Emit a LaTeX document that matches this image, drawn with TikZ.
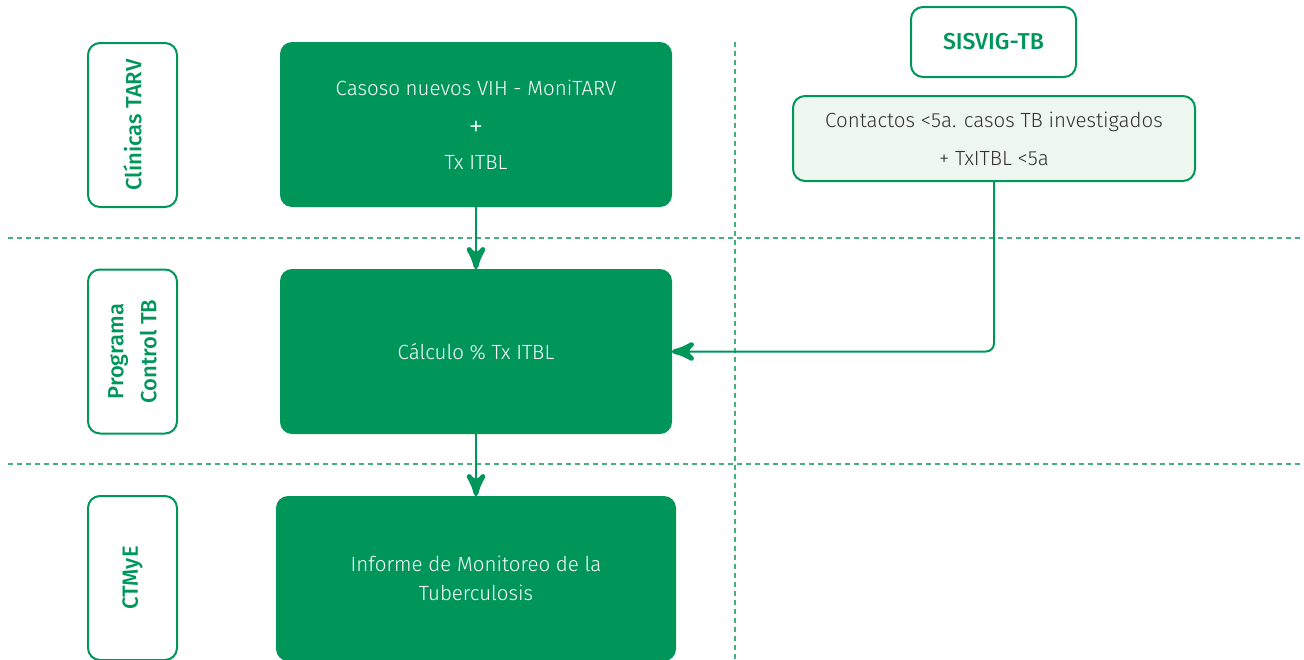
\documentclass[tikz,border=0pt]{standalone}
\usepackage{fontspec}
\setmainfont{Fira Sans Light}[BoldFont = {Fira Sans Medium}]
\usepackage{tikz}
\usetikzlibrary{arrows}
\usetikzlibrary{decorations.markings}
\usetikzlibrary{positioning}
\definecolor{mgreen}{RGB}{0, 150, 90}
\definecolor{lgreen}{RGB}{238, 246, 240}
\definecolor{dgreen}{RGB}{70, 175, 125}
\tikzset{step box/.style = {rectangle, rounded corners = 12, fill = mgreen,
                            text = white, align = center,
                            font = \fontsize{20.5}{37}\selectfont}}
\tikzset{lane/.style = {rectangle, rounded corners = 12, draw = mgreen,
                        line width = 2, rotate = 90, align = center,
                        text = mgreen, minimum width = 164, minimum height = 89,
                        font = \bfseries\fontsize{22}{33}\selectfont}}
\tikzset{flow/.style = {draw = mgreen, line width = 2,
                        decoration = {markings,
                                      mark = at position 1 with {\arrow[scale = 2.4]{stealth'}}},
                        postaction = {decorate}}}
\tikzset{divider/.style = {dgreen, line width = 1.5, dash pattern = on 5 off 4}}

\begin{document}
\begin{tikzpicture}[x = 1pt, y = -1pt]
      \useasboundingbox (0, 0) rectangle (1304, 659);
      \clip (0, 0) rectangle (1304, 659);

      % swim lanes
      \draw [divider] (8, 238) -- (1304, 238);
      \draw [divider] (8, 464) -- (1304, 464);
      \draw [divider] (735, 42) -- (735, 659);

      \node [lane] (clinicas) at (132.5, 125) {Clínicas TARV};
      \node [lane] (programa) at (132.5, 351.5) {Programa\\Control TB};
      \node [lane] (ctmye) at (132.5, 578) {CTMyE};

      % main flow
      \node [step box, minimum width = 392, minimum height = 165]
        (casos) at (476, 124.5)
        {Casoso nuevos VIH - MoniTARV\\\raisebox{-4pt}{\fontsize{30}{37}\selectfont+}\\Tx ITBL};
      \node [step box, minimum width = 392, minimum height = 165]
        (calculo) at (476, 351.5) {Cálculo \% Tx ITBL};
      \node [step box, minimum width = 400, minimum height = 165,
             font = \fontsize{20.5}{29}\selectfont]
        (informe) at (476, 578.5) {Informe de Monitoreo de la\\Tuberculosis};

      % SISVIG side
      \node [rectangle, rounded corners = 12, draw = mgreen, line width = 2,
             fill = white, text = mgreen, minimum width = 165, minimum height = 70,
             font = \bfseries\fontsize{23}{26}\selectfont]
        (sisvig) at (993.5, 42) {SISVIG-TB};
      \node [rectangle, rounded corners = 12, draw = mgreen, line width = 2,
             fill = lgreen, text = black!80, align = center,
             minimum width = 402, minimum height = 85,
             font = \fontsize{20.5}{38}\selectfont]
        (contactos) at (994, 138.5) {Contactos <5a. casos TB investigados\\+ TxITBL <5a};

      \draw [flow] (casos) -- (calculo);
      \draw [flow] (calculo) -- (informe);
      \draw [flow, rounded corners = 8] (contactos.south) |- (calculo.east);
\end{tikzpicture}
\end{document}
